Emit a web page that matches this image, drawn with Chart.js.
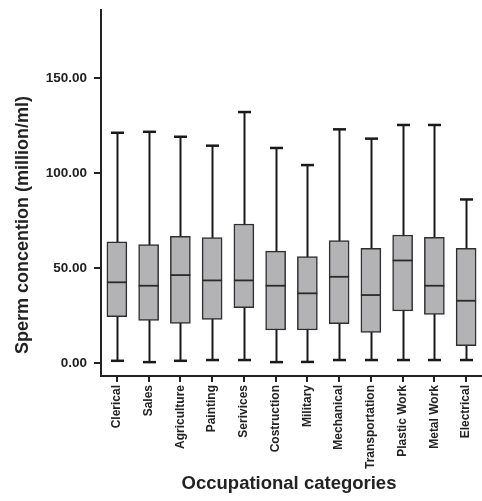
<!DOCTYPE html>
<html>
<head>
<meta charset="utf-8">
<script src="https://cdn.jsdelivr.net/npm/chart.js@4.4.1/dist/chart.umd.min.js"></script>
<style>
html,body{margin:0;padding:0;background:#fff;}
canvas{display:block;}
</style>
</head>
<body>
<canvas id="c" width="482" height="501"></canvas>
<script>
const categories = ["Clerical","Sales","Agriculture","Painting","Serivices","Costruction","Military","Mechanical","Transportation","Plastic Work","Metal Work","Electrical"];
const whiskerLow = [1.2, 0.5, 1.2, 1.6, 1.6, 0.5, 0.6, 1.6, 1.6, 1.6, 1.6, 1.6];
const q1        = [24.4, 22.4, 20.9, 23.0, 29.1, 17.4, 17.4, 20.7, 16.1, 27.4, 25.6, 9.1];
const median    = [42.5, 40.7, 46.3, 43.5, 43.5, 40.7, 36.7, 45.4, 35.8, 54.0, 40.7, 32.8];
const q3        = [63.8, 62.4, 66.7, 66.0, 73.2, 58.9, 56.1, 64.5, 60.4, 67.4, 66.2, 60.4];
const whiskerHigh = [121.2, 121.7, 119.1, 114.4, 132.1, 113.2, 104.2, 123.0, 118.1, 125.3, 125.3, 86.1];
const yTicks = [0, 50, 100, 150];
const yTitle = "Sperm concention (million/ml)";
const xTitle = "Occupational categories";

const FONT = "'Liberation Sans', Arial, sans-serif";

const boxPlugin = {
  id: 'boxParts',
  beforeDatasetsDraw(chart) {
    const ctx = chart.ctx, xs = chart.scales.x, ys = chart.scales.y;
    ctx.save();
    ctx.strokeStyle = '#1a1a1a';
    ctx.lineCap = 'butt';
    categories.forEach((c, i) => {
      const x = Math.round(xs.getPixelForValue(i)) + 0.5;
      const yl = ys.getPixelForValue(whiskerLow[i]);
      const yh = ys.getPixelForValue(whiskerHigh[i]);
      ctx.lineWidth = 2;
      ctx.beginPath(); ctx.moveTo(x, yl); ctx.lineTo(x, yh); ctx.stroke();
      ctx.lineWidth = 2.5;
      ctx.beginPath(); ctx.moveTo(x - 6.5, yl); ctx.lineTo(x + 6.5, yl); ctx.stroke();
      ctx.beginPath(); ctx.moveTo(x - 6.5, yh); ctx.lineTo(x + 6.5, yh); ctx.stroke();
    });
    ctx.restore();
  },
  afterDatasetsDraw(chart) {
    const ctx = chart.ctx, ys = chart.scales.y;
    const meta = chart.getDatasetMeta(0);
    ctx.save();
    ctx.strokeStyle = '#2a2a2a';
    ctx.lineWidth = 1.8;
    categories.forEach((c, i) => {
      const bar = meta.data[i];
      const half = bar.width / 2;
      const x = bar.x;
      const y = ys.getPixelForValue(median[i]);
      ctx.beginPath(); ctx.moveTo(x - half, y); ctx.lineTo(x + half, y); ctx.stroke();
    });
    ctx.restore();
  },
  afterDraw(chart) {
    const ctx = chart.ctx;
    ctx.save();
    ctx.fillStyle = '#222';
    ctx.textAlign = 'center';
    ctx.textBaseline = 'middle';
    ctx.font = "bold 18px " + FONT;
    ctx.translate(23, 225);
    ctx.rotate(-Math.PI / 2);
    ctx.fillText(yTitle, 0, 0);
    ctx.restore();
    ctx.save();
    ctx.fillStyle = '#222';
    ctx.textAlign = 'center';
    ctx.textBaseline = 'middle';
    ctx.font = "bold 18.5px " + FONT;
    ctx.fillText(xTitle, 289, 484);
    ctx.restore();
  }
};

new Chart(document.getElementById('c'), {
  type: 'bar',
  data: {
    labels: categories,
    datasets: [{
      data: categories.map((c, i) => [q1[i], q3[i]]),
      backgroundColor: '#b3b3b6',
      borderColor: '#2e2e2e',
      borderWidth: 1.5,
      borderSkipped: false,
      barThickness: 20
    }]
  },
  options: {
    responsive: false,
    animation: false,
    devicePixelRatio: 1,
    layout: { padding: { top: 10, right: 0, left: 0, bottom: 0 } },
    plugins: { legend: { display: false }, tooltip: { enabled: false } },
    scales: {
      x: {
        type: 'category',
        afterFit(s) { s.height = 125; s.paddingLeft = 0; s.paddingRight = 0; },
        grid: { offset: false, drawOnChartArea: false, tickLength: 6, color: '#222', lineWidth: 2 },
        border: { display: true, color: '#222', width: 2 },
        ticks: {
          color: '#222',
          autoSkip: false,
          minRotation: 90,
          maxRotation: 90,
          padding: 3,
          font: { family: FONT, size: 12, weight: 'bold' }
        }
      },
      y: {
        min: -6.8,
        max: 185.8,
        afterFit(s) { s.width = 101; s.paddingTop = 0; s.paddingBottom = 0; },
        afterBuildTicks(s) { s.ticks = yTicks.map(v => ({ value: v })); },
        grid: { drawOnChartArea: false, tickLength: 7, color: '#222', lineWidth: 2 },
        border: { display: true, color: '#222', width: 2 },
        ticks: {
          color: '#222',
          padding: 7,
          font: { family: FONT, size: 13.5, weight: 'bold' },
          callback: v => Number(v).toFixed(2)
        }
      }
    }
  },
  plugins: [boxPlugin]
});
</script>
</body>
</html>
